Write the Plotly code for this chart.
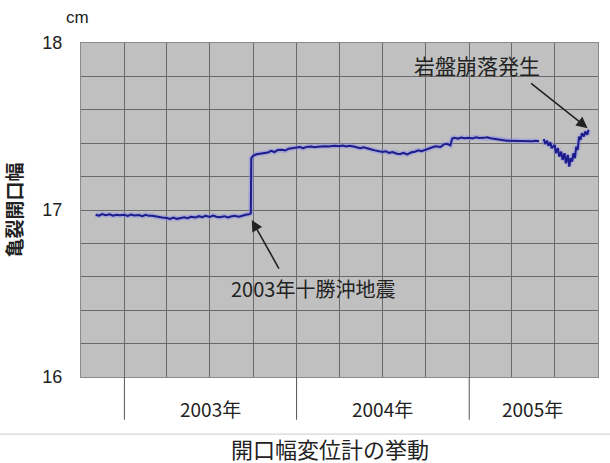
import plotly.graph_objects as go

# ---- data ----
dates = [
    "2002-11-01", "2002-11-08", "2002-11-15", "2002-11-22",
    "2002-12-01", "2002-12-08", "2002-12-15", "2002-12-22",
    "2003-01-01", "2003-01-08", "2003-01-15", "2003-01-22",
    "2003-02-01", "2003-02-08", "2003-02-15", "2003-02-22",
    "2003-03-01", "2003-03-08", "2003-03-15", "2003-03-22",
    "2003-04-01", "2003-04-08", "2003-04-15", "2003-04-22",
    "2003-05-01", "2003-05-08", "2003-05-15", "2003-05-22",
    "2003-06-01", "2003-06-08", "2003-06-15", "2003-06-22",
    "2003-07-01", "2003-07-08", "2003-07-15", "2003-07-22",
    "2003-08-01", "2003-08-08", "2003-08-15", "2003-08-22",
    "2003-09-01", "2003-09-08", "2003-09-15", "2003-09-22", "2003-09-26", "2003-09-27",
    "2003-10-01", "2003-10-08", "2003-10-15", "2003-10-22",
    "2003-11-01", "2003-11-08", "2003-11-15", "2003-11-22",
    "2003-12-01", "2003-12-08", "2003-12-15", "2003-12-22",
    "2004-01-01", "2004-01-08", "2004-01-15", "2004-01-22",
    "2004-02-01", "2004-02-08", "2004-02-15", "2004-02-22",
    "2004-03-01", "2004-03-08", "2004-03-15", "2004-03-22",
    "2004-04-01", "2004-04-08", "2004-04-15", "2004-04-22",
    "2004-05-01", "2004-05-08", "2004-05-15", "2004-05-22",
    "2004-06-01", "2004-06-08", "2004-06-15", "2004-06-22",
    "2004-07-01", "2004-07-08", "2004-07-15", "2004-07-22",
    "2004-08-01", "2004-08-08", "2004-08-15", "2004-08-22",
    "2004-09-01", "2004-09-08", "2004-09-15", "2004-09-22",
    "2004-10-01", "2004-10-08", "2004-10-15", "2004-10-22",
    "2004-11-01", "2004-11-08", "2004-11-15", "2004-11-22", "2004-11-26",
    "2004-12-01", "2004-12-08", "2004-12-15", "2004-12-22",
    "2005-01-01", "2005-01-08", "2005-01-15", "2005-01-22",
    "2005-02-01", "2005-02-08", "2005-02-15", "2005-02-22",
    "2005-03-01", "2005-03-08", "2005-03-15", "2005-03-22",
    "2005-04-01", "2005-04-08", "2005-04-15", "2005-04-22",
    "2005-05-01", "2005-05-08", "2005-05-15", "2005-05-22", "2005-05-29", "2005-06-04",
    "2005-06-08", "2005-06-11", "2005-06-15", "2005-06-18", "2005-06-22", "2005-06-25",
    "2005-07-01", "2005-07-04", "2005-07-08", "2005-07-11", "2005-07-15", "2005-07-18",
    "2005-07-22", "2005-07-25", "2005-07-29",
    "2005-08-01", "2005-08-04", "2005-08-07", "2005-08-10", "2005-08-13", "2005-08-16",
    "2005-08-19", "2005-08-22", "2005-08-25", "2005-08-28",
    "2005-09-01", "2005-09-04", "2005-09-08", "2005-09-11",
]

widths = [
    16.972, 16.966, 16.976, 16.969,
    16.974, 16.966, 16.972, 16.968,
    16.971, 16.965, 16.973, 16.967,
    16.970, 16.963, 16.971, 16.965,
    16.966, 16.961, 16.958, 16.955,
    16.952, 16.947, 16.954, 16.947,
    16.952, 16.956, 16.951, 16.959,
    16.955, 16.963, 16.957, 16.965,
    16.959, 16.967, 16.960, 16.957,
    16.963, 16.955, 16.961, 16.965,
    16.960, 16.968, 16.972, 16.975, 16.980, 17.310,
    17.325, 17.334, 17.337, 17.336,
    17.344, 17.354, 17.347, 17.359,
    17.361, 17.356, 17.367, 17.370,
    17.372, 17.377, 17.370, 17.378,
    17.380, 17.376, 17.379, 17.381,
    17.382, 17.380, 17.383, 17.384,
    17.382, 17.386, 17.380, 17.384,
    17.380, 17.376, 17.370, 17.375,
    17.365, 17.362, 17.357, 17.352,
    17.347, 17.352, 17.342, 17.347,
    17.337, 17.335, 17.342, 17.333,
    17.346, 17.349, 17.357, 17.352,
    17.363, 17.367, 17.376, 17.381,
    17.377, 17.393, 17.396, 17.387, 17.428,
    17.432, 17.427, 17.434, 17.430,
    17.433, 17.429, 17.435, 17.431,
    17.432, 17.436, 17.430, 17.428,
    17.425, 17.420, 17.418, 17.415,
    17.414, 17.416, 17.412, 17.415,
    17.410, 17.413, 17.411, 17.414, 17.412, None,
    17.425, 17.395, 17.415, 17.385, 17.405, 17.370,
    17.390, 17.340, 17.370, 17.320, 17.350, 17.300,
    17.340, 17.280, 17.330,
    17.260, 17.310, 17.290, 17.340, 17.310, 17.380,
    17.360, 17.440, 17.420, 17.460,
    17.440, 17.470, 17.450, 17.480,
]

year_labels = ["2003年", "2004年", "2005年"]
year_label_pos = ["2003-07-02", "2004-07-02", "2005-05-16"]
year_starts = ["2003-01-01", "2004-01-01", "2005-01-01"]

quake_point = ("2003-09-28", 16.94)
collapse_point = ("2005-09-09", 17.49)

CJK = "Noto Sans CJK JP"

fig = go.Figure()
fig.add_trace(go.Scatter(
    x=dates, y=widths, mode="lines",
    line=dict(color="rgba(140,140,230,0.5)", width=5),
    hoverinfo="skip", showlegend=False,
))
fig.add_trace(go.Scatter(
    x=dates, y=widths, mode="lines",
    line=dict(color="#1c1c8c", width=2),
    showlegend=False,
))

shapes = []
for ys in year_starts:
    shapes.append(dict(type="line", xref="x", yref="paper", x0=ys, x1=ys,
                       y0=0, y1=-0.128, line=dict(color="#555555", width=1)))
shapes.append(dict(type="line", xref="paper", yref="paper", x0=-0.16, x1=1.03,
                   y0=-0.171, y1=-0.171, line=dict(color="#cccccc", width=1)))


def label(text, x, y, size, family=CJK, xref="paper"):
    return dict(text=text, x=x, y=y, xref=xref, yref="paper", showarrow=False,
                xanchor="center", yanchor="middle",
                font=dict(family=family, size=size, color="#222222"))


annotations = [label(lab, pos, -0.093, 19, xref="x")
               for lab, pos in zip(year_labels, year_label_pos)]
annotations += [
    label("cm", -0.006, 1.075, 17, family="Liberation Sans"),
    label("開口幅変位計の挙動", 0.482, -0.213, 22),
    label("2003年十勝沖地震", 0.449, 0.266, 20),
    label("岩盤崩落発生", 0.766, 0.934, 21),
    dict(text="", x=quake_point[0], y=quake_point[1], xref="x", yref="y",
         showarrow=True, ax=28, ay=50, arrowhead=2, arrowsize=1.4, arrowwidth=1.6,
         arrowcolor="#222222"),
    dict(text="", x=collapse_point[0], y=collapse_point[1], xref="x", yref="y",
         showarrow=True, ax=-58, ay=-46, arrowhead=2, arrowsize=1.4, arrowwidth=1.6,
         arrowcolor="#222222"),
]

fig.update_layout(
    width=610, height=463,
    margin=dict(l=81, r=12, t=43, b=86),
    paper_bgcolor="white", plot_bgcolor="#c0c0c0",
    shapes=shapes, annotations=annotations,
    xaxis=dict(type="date", range=["2002-10-01", "2005-10-01"], dtick="M3",
               tick0="2002-10-01", showticklabels=False, ticks="", automargin=False,
               showgrid=True, gridcolor="#6a6a6a", gridwidth=1,
               showline=True, linecolor="#8a8a8a", mirror=True, zeroline=False),
    yaxis=dict(range=[16, 18], tickvals=[16, 17, 18], ticks="", automargin=False,
               showgrid=True, gridcolor="#6a6a6a", gridwidth=1,
               minor=dict(dtick=0.2, showgrid=True, gridcolor="#6a6a6a", gridwidth=1),
               showline=True, linecolor="#8a8a8a", mirror=True, zeroline=False,
               ticklabelstandoff=14,
               tickfont=dict(family="Liberation Sans", size=18, color="#222222"),
               title=dict(text="亀裂開口幅", standoff=14,
                          font=dict(family=CJK, size=19, color="#222222", weight=700))),
)

fig.write_html("out.html", config={"displayModeBar": False},
               post_script="document.body.style.margin='0';document.body.style.padding='0';")
